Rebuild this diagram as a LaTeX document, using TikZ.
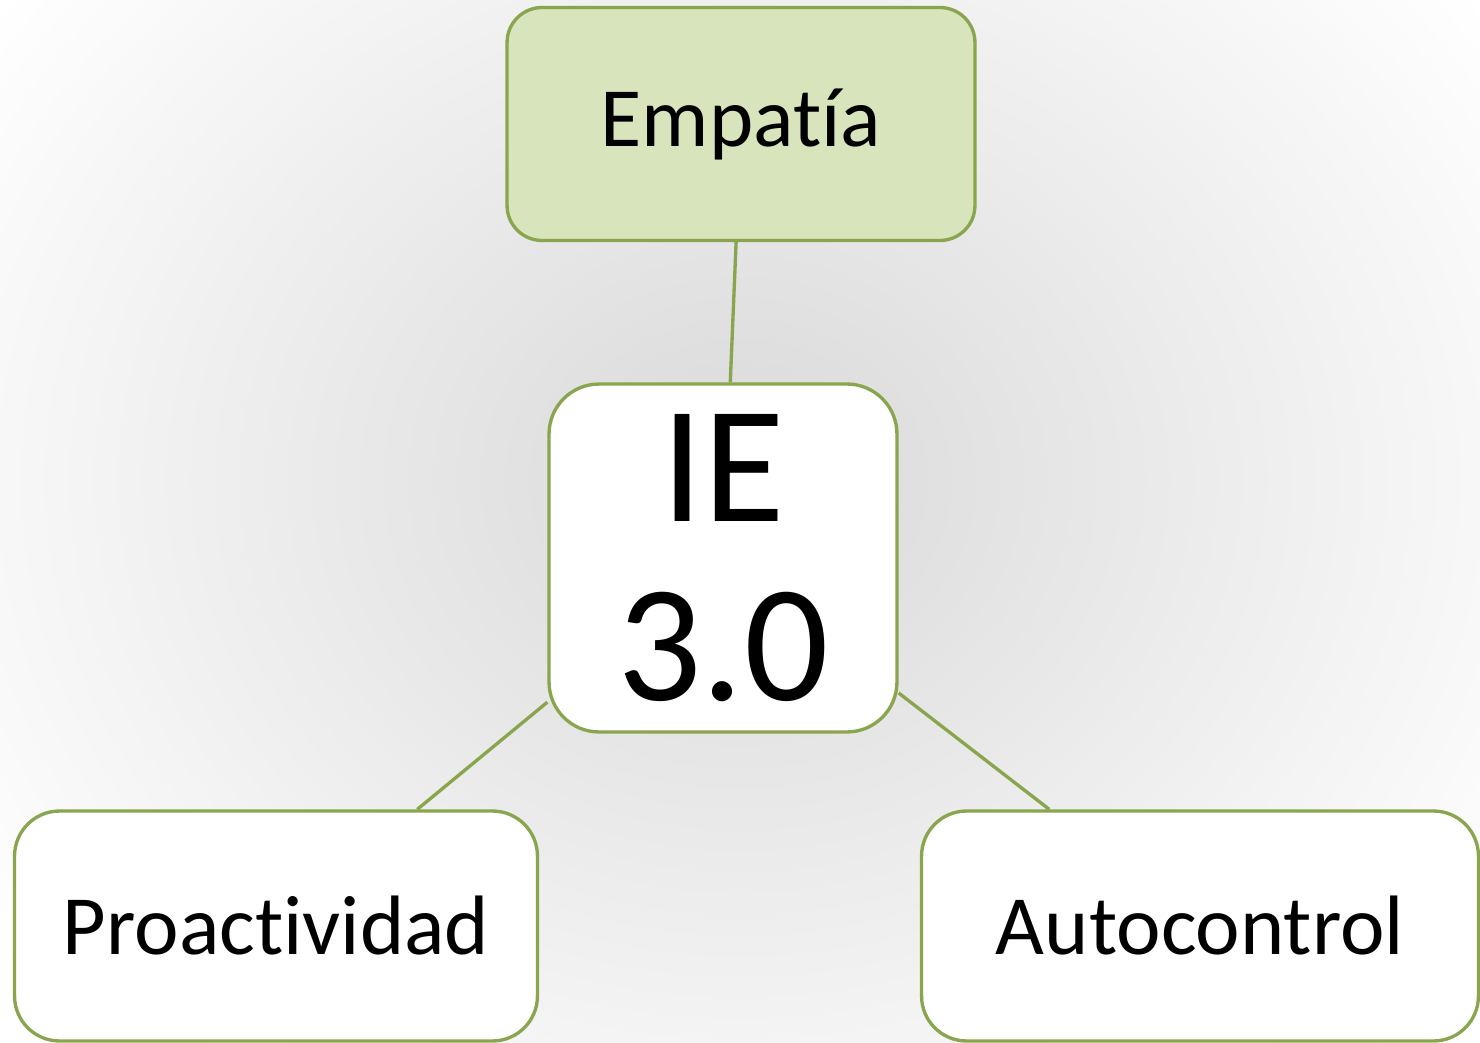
\documentclass[tikz,border=0pt]{standalone}
\usepackage{fontspec}
\setmainfont{Carlito}[Ligatures=NoCommon]
\usepackage{xcolor}
\usepackage{tikz}
\definecolor{olivedge}{RGB}{137,166,78}
\definecolor{olivefill}{RGB}{216,228,188}

\begin{document}
\begin{tikzpicture}[
    x=0.02cm, y=-0.02cm,
    topic/.style={rectangle, rounded corners=0.9cm, draw=olivedge, line width=1.9pt, fill=white, minimum width=10.46cm, minimum height=4.6cm, align=center, font=\fontsize{48}{58}\selectfont},
    core/.style={topic, rounded corners=1cm, minimum width=6.96cm, minimum height=6.96cm, font=\fontsize{95}{102}\selectfont},
    link/.style={draw=olivedge, line width=1.9pt},
]

% Background
\useasboundingbox (0,0) rectangle (1480,1043);
\fill[white] (0,0) rectangle (1480,1043);
\begin{scope}
\clip (0,0) rectangle (1480,1043);
\shade[inner color=black!15, outer color=white] (740,480) ellipse [x radius=18.5cm, y radius=16cm];
\end{scope}

% Center
\node[core] (ie) at (723,558) {IE\\3.0};

% Surrounding topics
\node[topic, fill=olivefill, rounded corners=0.7cm, minimum width=9.36cm, minimum height=4.66cm] (empatia) at (741,124) {Empat\'ia};
\node[topic] (proact) at (276,926) {Proactividad};
\node[topic, minimum width=11.14cm] (autoc) at (1200,926) {Autocontrol};

% Links
\draw[link] (ie) -- (empatia);
\draw[link] (ie) -- (proact);
\draw[link] (ie) -- (autoc);

\end{tikzpicture}
\end{document}
